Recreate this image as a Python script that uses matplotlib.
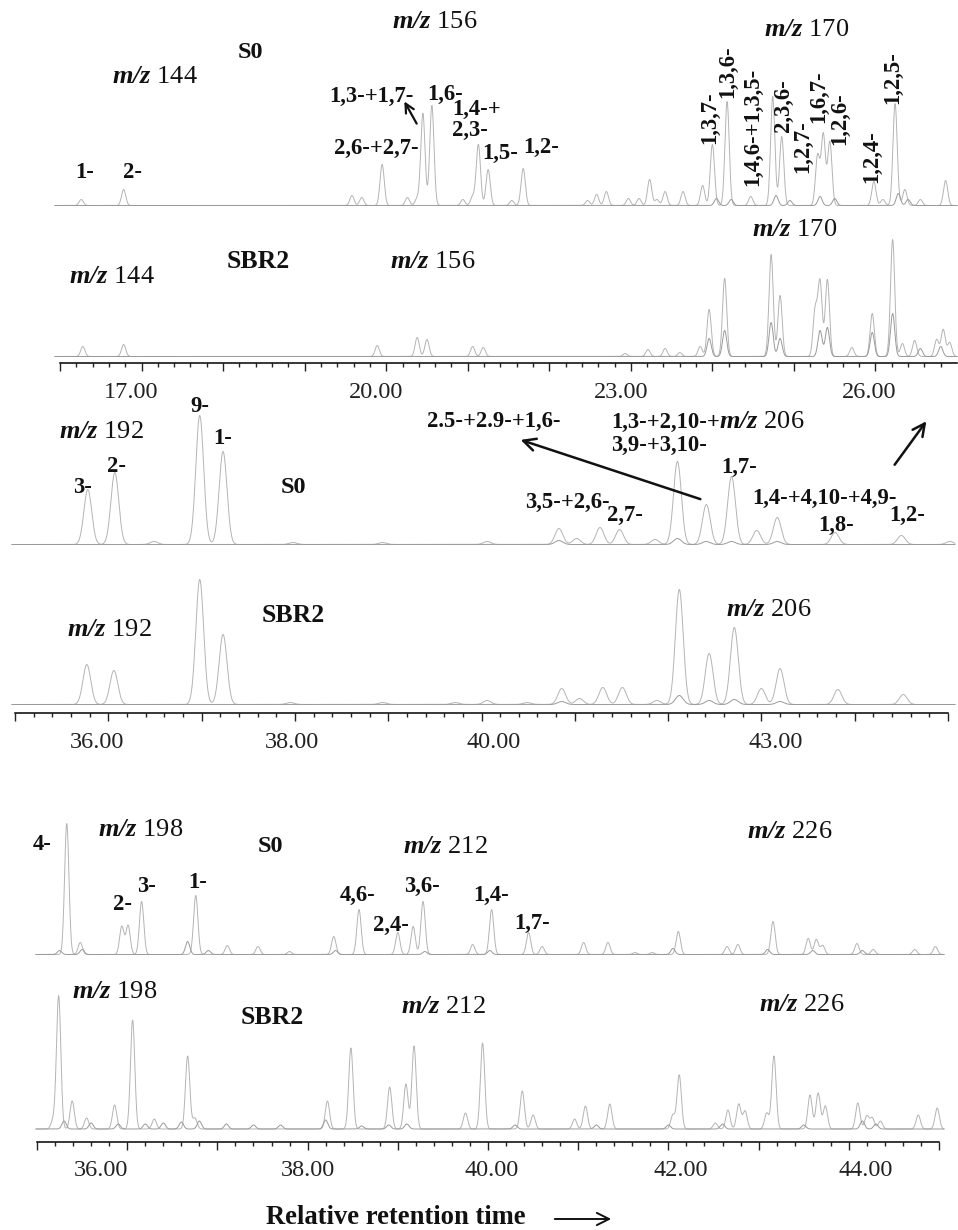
import numpy as np
import matplotlib.pyplot as plt
from matplotlib.patches import FancyArrowPatch
from matplotlib.ticker import MultipleLocator, NullFormatter

plt.rcParams['font.family'] = ['Liberation Serif', 'DejaVu Serif']
plt.rcParams['mathtext.fontset'] = 'custom'
plt.rcParams['mathtext.bf'] = 'Liberation Serif:bold:italic'
plt.rcParams['mathtext.rm'] = 'Liberation Serif'
plt.rcParams['mathtext.it'] = 'Liberation Serif:italic'

W, H = 958, 1230

# ---- window 1: m/z 144 / 156 / 170 (methyl-, dimethyl-, trimethylnaphthalenes)
p1_ticklabels = [17, 20, 23, 26]
p1_s0_rt = [16.26, 16.78, 19.58, 19.70, 19.95, 20.26, 20.38, 20.45, 20.56, 20.94,
            21.06, 21.13, 21.25, 21.54, 21.68, 22.47, 22.58, 22.70, 22.97, 23.10,
            23.23, 23.32, 23.42, 23.64, 23.88, 24.00, 24.18, 24.47, 24.74, 24.85,
            25.29, 25.36, 25.44, 25.98, 26.09, 26.24, 26.36, 26.55, 26.86]
p1_s0_ab = [6, 16, 10, 8, 41, 8, 7, 92, 100, 6,
            9, 61, 36, 5, 37, 5, 11, 14, 7, 7,
            26, 6, 14, 14, 20, 61, 104, 9, 109, 69,
            50, 71, 64, 24, 6, 102, 16, 6, 25]
p1_s0b_rt = [24.05, 24.23, 24.78, 24.95, 25.32, 25.50, 26.28, 26.40]
p1_s0b_ab = [7, 6, 10, 5, 9, 7, 12, 6]
p1_sbr_rt = [16.28, 16.78, 19.89, 20.38, 20.50, 21.06, 21.19, 22.93, 23.21, 23.42,
             23.60, 23.85, 23.96, 24.15, 24.72, 24.83, 25.26, 25.32, 25.41, 25.71,
             25.96, 26.21, 26.33, 26.48, 26.75, 26.83, 26.91]
p1_sbr_ab = [10, 12, 11, 19, 17, 10, 9, 3, 7, 8,
             4, 10, 47, 78, 102, 61, 46, 74, 77, 9,
             43, 117, 13, 16, 17, 27, 14]
p1_sbrb_rt = [23.96, 24.15, 24.72, 24.83, 25.32, 25.41, 25.96, 26.21, 26.55, 26.80]
p1_sbrb_ab = [18, 26, 34, 18, 26, 29, 24, 43, 8, 10]

# ---- window 2: m/z 192 / 206 (methyl-, dimethylphenanthrenes)
p2_ticklabels = [36, 38, 40, 43]
p2_s0_rt = [35.78, 36.07, 36.49, 36.98, 37.23, 37.98, 38.94, 40.06, 40.83, 41.02,
            41.27, 41.48, 41.86, 42.10, 42.41, 42.68, 42.95, 43.17, 43.79, 44.50, 45.02]
p2_s0_ab = [55, 72, 3, 129, 93, 2, 2, 3, 16, 6,
            17, 15, 5, 83, 40, 68, 14, 27, 12, 9, 3]
p2_s0b_rt = [40.83, 42.10, 42.41, 42.68, 43.17]
p2_s0b_ab = [4, 6, 3, 3, 3]
p2_sbr_rt = [35.77, 36.06, 36.98, 37.23, 37.95, 38.94, 39.72, 40.06, 40.49, 40.86,
             41.05, 41.30, 41.51, 41.88, 42.12, 42.44, 42.71, 43.00, 43.20, 43.82, 44.52]
p2_sbr_ab = [40, 34, 125, 70, 2, 2, 2, 4, 2, 16,
             6, 17, 17, 4, 115, 51, 77, 16, 36, 15, 10]
p2_sbrb_rt = [40.86, 42.12, 42.44, 42.71, 43.20]
p2_sbrb_ab = [3, 9, 4, 5, 3]

# ---- window 3: m/z 198 / 212 / 226 (methyl-, dimethyl-, trimethyldibenzothiophenes)
p3_ticklabels = [36, 38, 40, 42, 44]
p3_s0_rt = [35.33, 35.48, 35.94, 36.01, 36.16, 36.76, 37.11, 37.45, 37.80, 38.29,
            38.57, 39.00, 39.17, 39.28, 39.83, 40.04, 40.45, 40.60, 41.06, 41.33,
            41.63, 41.82, 42.11, 42.65, 42.77, 43.16, 43.55, 43.64, 43.71, 44.09,
            44.27, 44.73, 44.96]
p3_s0_ab = [131, 12, 28, 29, 53, 59, 9, 8, 3, 18,
            45, 22, 28, 53, 10, 45, 22, 8, 12, 12,
            2, 2, 23, 8, 10, 33, 16, 15, 9, 11,
            5, 5, 8]
p3_s0b_rt = [35.25, 35.50, 36.67, 36.90, 38.31, 39.30, 40.02, 42.05, 43.10, 43.60, 44.15]
p3_s0b_ab = [4, 5, 13, 4, 4, 3, 4, 6, 5, 4, 4]
p3_sbr_rt = [35.18, 35.24, 35.39, 35.55, 35.86, 36.06, 36.30, 36.67, 36.75, 38.22,
             38.48, 38.91, 39.09, 39.18, 39.75, 39.94, 40.38, 40.50, 40.96, 41.08,
             41.35, 42.05, 42.12, 42.52, 42.66, 42.78, 42.85, 43.09, 43.17, 43.57,
             43.66, 43.74, 44.10, 44.20, 44.26, 44.35, 44.77, 44.98]
p3_sbr_ab = [9, 133, 28, 11, 24, 109, 10, 73, 11, 28,
             81, 42, 45, 83, 16, 86, 38, 14, 10, 23,
             25, 14, 54, 6, 19, 25, 18, 16, 73, 34,
             36, 23, 26, 13, 11, 8, 14, 21]
p3_sbrb_rt = [35.30, 35.60, 35.90, 36.20, 36.40, 36.60, 36.80, 37.10, 37.40, 37.70,
              38.20, 38.60, 38.90, 39.10, 40.30, 41.20, 42.00, 42.60, 43.50, 44.15, 44.30]
p3_sbrb_ab = [8, 6, 5, 5, 6, 7, 8, 5, 4, 4,
              9, 3, 4, 5, 4, 4, 4, 5, 4, 8, 5]

fig = plt.figure(figsize=(W / 100, H / 100), dpi=100)

MAIN = '#b4b4b4'
SECOND = '#9a9a9a'
INK = '#111111'
LAB = 16.3     # bold isomer labels
MZ = 19        # m/z labels


def peaks(grid, rt, ab, sigma):
    rt = np.asarray(rt)[:, None]
    ab = np.asarray(ab)[:, None]
    return (ab * np.exp(-0.5 * ((grid[None, :] - rt) / sigma) ** 2)).sum(axis=0)


def trace_axes(left, right, top, base, bottom, ref_px, ref_rt, scale):
    ax = fig.add_axes([left / W, 1 - bottom / H, (right - left) / W, (bottom - top) / H])
    ax.set_xlim(ref_rt + (left - ref_px) / scale, ref_rt + (right - ref_px) / scale)
    ax.set_ylim(-(bottom - base), base - top)
    ax.patch.set_alpha(0)
    for s in ax.spines.values():
        s.set_visible(False)
    ax.set_xticks([])
    ax.set_yticks([])
    return ax


def draw(ax, series, sigma):
    grid = np.linspace(*ax.get_xlim(), 4000)
    for (rt, ab), color in zip(series, [MAIN, SECOND]):
        ax.plot(grid, peaks(grid, rt, ab, sigma), color=color, lw=0.7, clip_on=False)


def time_axis(ax, lo, hi, labels, shifts):
    sp = ax.spines['bottom']
    sp.set_visible(True)
    sp.set_bounds(lo, hi)
    sp.set_linewidth(1.1)
    ax.xaxis.set_major_locator(MultipleLocator(1))
    ax.xaxis.set_minor_locator(MultipleLocator(0.2))
    ax.xaxis.set_major_formatter(NullFormatter())
    ax.tick_params(axis='x', which='major', length=5.5, width=1.0, colors='#222222')
    ax.tick_params(axis='x', which='minor', length=3, width=1.0, colors='#222222')
    # time labels hang under their ticks, nudged sideways a little
    for v, dx in zip(labels, shifts):
        ax.annotate(f'{v:.2f}', xy=(v, 0), xycoords=('data', 'axes fraction'),
                    xytext=(dx, -29), textcoords='offset pixels',
                    ha='center', va='center', fontsize=17.5, color='#222222')


def txt(x, y, s, size=LAB, bold=True, rot=0, ha='center', **kw):
    fig.text(x / W, 1 - y / H, s, fontsize=size, fontweight='bold' if bold else 'normal',
             rotation=rot, ha=ha, va='center', color=INK, **kw)


def mz(x, y, val, size=MZ):
    txt(x, y, r'$\mathbf{m/z}$ ' + str(val), size=size, bold=False)


def arrow(x0, y0, x1, y1, lw=1.8, ms=22):
    fig.add_artist(FancyArrowPatch(
        (x0 / W, 1 - y0 / H), (x1 / W, 1 - y1 / H), transform=fig.transFigure,
        arrowstyle='->', mutation_scale=ms, lw=lw, color=INK))


# ---------------- window 1
s1 = 81.55
a = trace_axes(55, 957, 0, 205.5, 215, 60, 16.0, s1)
draw(a, [(p1_s0_rt, p1_s0_ab), (p1_s0b_rt, p1_s0b_ab)], 0.026)
a = trace_axes(55, 957, 215, 356.5, 363, 60, 16.0, s1)
draw(a, [(p1_sbr_rt, p1_sbr_ab), (p1_sbrb_rt, p1_sbrb_ab)], 0.026)
time_axis(a, 16.0, 27.0, p1_ticklabels, [-10, -10, -10, -6])

txt(250, 53, 'S0', size=17.5)
mz(155, 77, 144)
mz(435, 22, 156)
mz(807, 30, 170)
txt(85, 173, '1-')
txt(132, 173, '2-')
txt(376, 148, '2,6-+2,7-')
txt(371, 96, '1,3-+1,7-')
txt(445, 94, '1,6-')
txt(452, 120, '1,4-+\n2,3-', ha='left', linespacing=0.95, multialignment='left')
txt(500, 153, '1,5-')
txt(541, 147, '1,2-')
for x, y, s in [(710, 118, '1,3,7-'), (728, 72, '1,3,6-'), (753, 127, '1,4,6-+1,3,5-'),
                (783, 106, '2,3,6-'), (803, 147, '1,2,7-'), (819, 97, '1,6,7-'),
                (840, 119, '1,2,6-'), (872, 157, '1,2,4-'), (893, 78, '1,2,5-')]:
    txt(x, y, s, rot=90)
arrow(418, 126, 403, 99, lw=1.6, ms=16)
txt(258, 262, 'SBR2', size=18.5)
mz(112, 277, 144)
mz(433, 262, 156)
mz(795, 230, 170)

# ---------------- window 2
s2 = 93.3
a = trace_axes(12, 955, 395, 544.5, 560, 15, 35.0, s2)
draw(a, [(p2_s0_rt, p2_s0_ab), (p2_s0b_rt, p2_s0b_ab)], 0.042)
a = trace_axes(12, 955, 560, 704.5, 713, 15, 35.0, s2)
draw(a, [(p2_sbr_rt, p2_sbr_ab), (p2_sbrb_rt, p2_sbrb_ab)], 0.042)
time_axis(a, 35.0, 45.0, p2_ticklabels, [-11, -3, 12, 14])

mz(101, 432, 192)
txt(82, 487, '3-')
txt(116, 466, '2-')
txt(200, 407, '9-')
txt(223, 438, '1-')
txt(293, 487, 'S0', size=17.5)
txt(494, 421, '2.5-+2.9-+1,6-')
txt(611, 422, '1,3-+2,10-+', ha='left')
mz(762, 422, 206)
txt(659, 445, '3,9-+3,10-')
txt(739, 467, '1,7-')
txt(567, 502, '3,5-+2,6-')
txt(625, 515, '2,7-')
txt(825, 498, '1,4-+4,10-+4,9-')
txt(836, 525, '1,8-')
txt(907, 515, '1,2-')
arrow(703, 500, 518, 439)
arrow(893, 467, 928, 419)
mz(109, 630, 192)
txt(293, 615, 'SBR2', size=18.5)
mz(769, 610, 206)

# ---------------- window 3
s3 = 90.2
a = trace_axes(36, 944, 790, 954.5, 965, 37, 35.0, s3)
draw(a, [(p3_s0_rt, p3_s0_ab), (p3_s0b_rt, p3_s0b_ab)], 0.024)
a = trace_axes(36, 944, 965, 1129, 1142, 37, 35.0, s3)
draw(a, [(p3_sbr_rt, p3_sbr_ab), (p3_sbrb_rt, p3_sbrb_ab)], 0.024)
time_axis(a, 35.0, 45.0, p3_ticklabels, [-26, 0, 4, 12, 17])

txt(42, 845, '4-')
mz(141, 830, 198)
txt(270, 847, 'S0', size=17.5)
mz(445, 847, 212)
txt(122, 905, '2-')
txt(146, 887, '3-')
txt(198, 883, '1-')
txt(358, 895, '4,6-')
txt(391, 925, '2,4-')
txt(422, 886, '3,6-')
txt(491, 895, '1,4-')
txt(532, 923, '1,7-')
mz(790, 832, 226)
mz(115, 992, 198)
txt(272, 1018, 'SBR2', size=18.5)
mz(443, 1007, 212)
mz(802, 1005, 226)

txt(396, 1217, 'Relative retention time', size=19.2)
arrow(552, 1219, 614, 1219, lw=1.4, ms=22)

fig.savefig('out.png', dpi=100)
